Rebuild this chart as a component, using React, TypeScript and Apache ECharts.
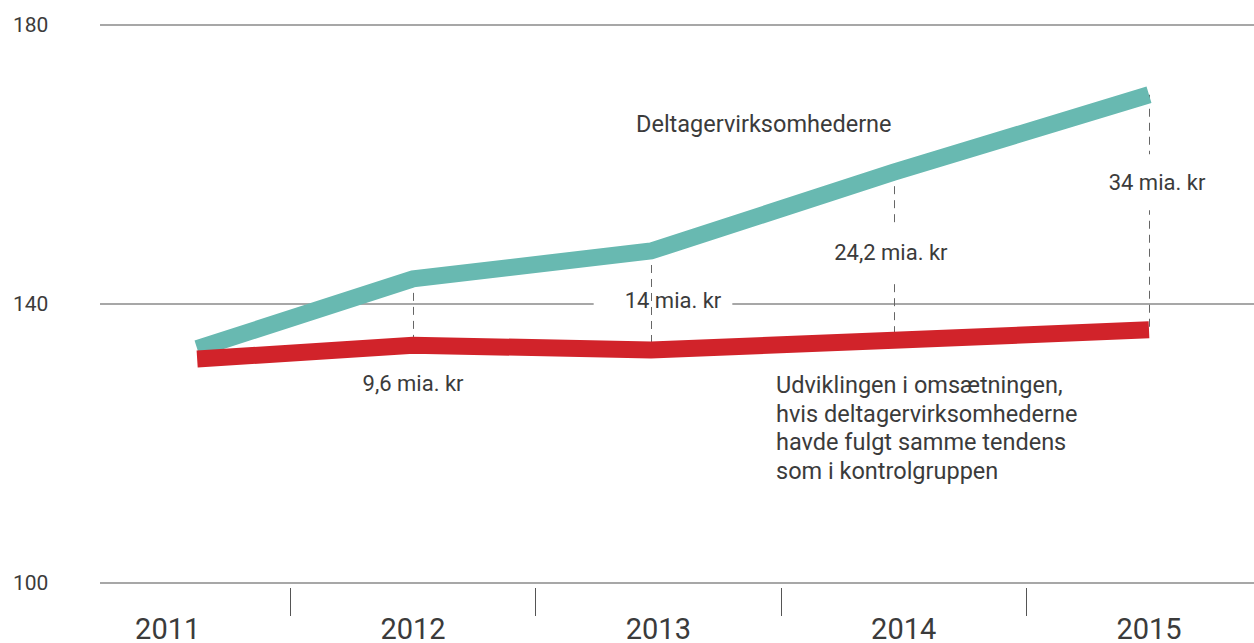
import React, { useEffect, useRef } from "react";
import * as echarts from "echarts";

// ---- data ----
const yearLabels = [2011, 2012, 2013, 2014, 2015];
const yearSeparators = [2011.5, 2012.5, 2013.5, 2014.5];
const pointYears = [2011.12, 2012, 2012.97, 2013.96, 2015];
const participants = [133.6, 143.6, 147.6, 158.9, 170.0];
const counterfactual = [132.1, 134.1, 133.4, 134.8, 136.3];
const gapLabels = ["9,6 mia. kr", "14 mia. kr", "24,2 mia. kr", "34 mia. kr"];
const yMin = 100;
const yMax = 180;
const yStep = 40;
const participantsName = "Deltagervirksomhederne";
const counterfactualText = [
  "Udviklingen i omsætningen,",
  "hvis deltagervirksomhederne",
  "havde fulgt samme tendens",
  "som i kontrolgruppen",
];

const FONT = "Roboto, 'Noto Sans', sans-serif";
const TEXT = "#3b3b3b";
const GREEN = "#68b9b1";
const RED = "#d1232a";

export default function App() {
  const ref = useRef<HTMLDivElement>(null);
  useEffect(() => {
    if (!ref.current) return;
    const chart = echarts.init(ref.current, undefined, { renderer: "svg" });

    const xMin = 2010.724;
    const xMax = 2015.428;

    const dashData = pointYears.slice(1).map((yr, i) => [
      { coord: [yr, participants[i + 1]] },
      { coord: [yr, counterfactual[i + 1]] },
    ]);

    const labelStyles = [
      { offset: [0, 38], padding: [2, 4] },
      { offset: [12, 0], padding: [6, 11, 6, 31] },
      { offset: [-3, -4], padding: [17, 6] },
      { offset: [8, -30], padding: [17, 6] },
    ];

    const mkLabelItem = (i: number) => {
      const idx = i + 1;
      const y =
        i === 0 ? counterfactual[idx] : (participants[idx] + counterfactual[idx]) / 2;
      return {
        value: [pointYears[idx], y],
        label: {
          show: true,
          position: "inside",
          formatter: gapLabels[i],
          fontFamily: FONT,
          fontSize: 22,
          color: TEXT,
          backgroundColor: "#ffffff",
          offset: labelStyles[i].offset,
          padding: labelStyles[i].padding,
        },
      };
    };

    chart.setOption({
      animation: false,
      textStyle: { fontFamily: FONT },
      grid: { left: 100, right: 0, top: 25, bottom: 58, containLabel: false },
      xAxis: [
        {
          type: "value",
          min: xMin,
          max: xMax,
          axisLine: { show: false },
          axisTick: { show: false },
          splitLine: { show: false },
          axisLabel: {
            customValues: yearLabels,
            formatter: (v: number) => String(Math.round(v)),
            fontFamily: FONT,
            fontSize: 29,
            color: TEXT,
            margin: 31,
          },
        },
        {
          type: "value",
          min: xMin,
          max: xMax,
          position: "bottom",
          offset: 5,
          axisLine: { show: false },
          splitLine: { show: false },
          axisLabel: { show: false },
          axisTick: {
            show: true,
            customValues: yearSeparators,
            length: 28,
            lineStyle: { color: "#555", width: 1 },
          },
        },
      ],
      yAxis: {
        type: "value",
        min: yMin,
        max: yMax,
        interval: yStep,
        axisLine: { show: false },
        axisTick: { show: false },
        splitLine: { show: true, lineStyle: { color: "#8a8a8a", width: 1.5 } },
        axisLabel: {
          align: "left",
          margin: 87,
          fontFamily: FONT,
          fontSize: 21,
          color: TEXT,
        },
      },
      series: [
        {
          type: "line",
          name: "connectors",
          z: 3,
          data: pointYears.map((yr, i) => [yr, counterfactual[i]]),
          symbol: "none",
          lineStyle: { opacity: 0 },
          silent: true,
          markLine: {
            z: 3,
            silent: true,
            symbol: "none",
            label: { show: false },
            lineStyle: { color: "#666", width: 1, type: [8, 6] },
            data: dashData,
          },
        },
        {
          type: "scatter",
          name: "gap13",
          z: 2,
          symbolSize: 0,
          silent: true,
          itemStyle: { opacity: 1 },
          data: [mkLabelItem(1)],
        },
        {
          type: "scatter",
          name: "gaps",
          z: 4,
          symbolSize: 0,
          silent: true,
          itemStyle: { opacity: 1 },
          data: [mkLabelItem(0), mkLabelItem(2), mkLabelItem(3)],
        },
        {
          type: "line",
          name: participantsName,
          z: 5,
          symbol: "none",
          data: pointYears.map((yr, i) => [yr, participants[i]]),
          lineStyle: { color: GREEN, width: 17, cap: "butt", join: "miter" },
        },
        {
          type: "line",
          name: "Kontrol",
          z: 6,
          symbol: "none",
          data: pointYears.map((yr, i) => [yr, counterfactual[i]]),
          lineStyle: { color: RED, width: 17, cap: "butt", join: "miter" },
        },
      ],
      graphic: [
        {
          type: "text",
          left: 636,
          top: 112,
          style: { text: participantsName, font: `23.5px ${FONT}`, fill: TEXT },
        },
        {
          type: "text",
          left: 776,
          top: 371,
          style: {
            text: counterfactualText.join("\n"),
            font: `23.5px ${FONT}`,
            lineHeight: 28.5,
            fill: TEXT,
          },
        },
      ],
    });
    return () => chart.dispose();
  }, []);
  return (
    <div
      ref={ref}
      style={{ position: "absolute", left: 0, top: 0, width: 1254, height: 643 }}
    />
  );
}
